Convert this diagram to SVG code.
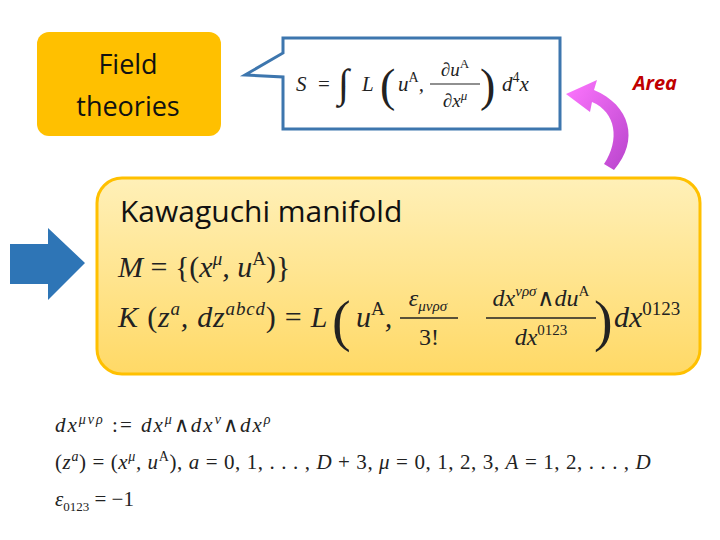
<svg xmlns="http://www.w3.org/2000/svg" width="720" height="540" viewBox="0 0 720 540">
<defs>
<linearGradient id="yb" x1="0" y1="0" x2="0" y2="1"><stop offset="0" stop-color="#FFF0B8"/><stop offset="1" stop-color="#FFD966"/></linearGradient>
<linearGradient id="mg" x1="0" y1="0" x2="1" y2="1"><stop offset="0" stop-color="#FF77FF"/><stop offset="1" stop-color="#B844CC"/></linearGradient>
</defs>
<style>
.m{font-family:"Liberation Serif",serif;font-style:italic;fill:#222}
.u{font-style:normal}
.c{font-family:"Open Sans","Liberation Sans",sans-serif;fill:#111}
</style>
<rect width="720" height="540" fill="#fff"/>
<g id="field"><rect x="37" y="32" width="184" height="104" rx="12" fill="#FFC000"/>
<text class="c" x="128" y="74" font-size="27" text-anchor="middle">Field</text>
<text class="c" x="128" y="116" font-size="27" text-anchor="middle">theories</text></g>
<g id="action"><path d="M283,38 H560 V129 H283 V77 L245,75 L283,53 Z" fill="#fff" stroke="#3D76AE" stroke-width="3"/>
<text class="m" x="296" y="91" font-size="21">S</text>
<text class="m u" x="318" y="91" font-size="21">=</text>
<text class="m u" x="338" y="97" font-size="40">∫</text>
<text class="m" x="362" y="91" font-size="21">L</text>
<text class="m u" x="380" y="101" font-size="46">(</text>
<text class="m" x="398" y="91" font-size="21">u<tspan class="u" font-size="14" dy="-9">A</tspan><tspan dy="9">,</tspan></text>
<text class="m" x="455" y="76" font-size="19" text-anchor="middle">∂u<tspan class="u" font-size="13" dy="-8">A</tspan></text>
<line x1="430" y1="84" x2="480" y2="84" stroke="#222" stroke-width="1.2"/>
<text class="m" x="455" y="107" font-size="19" text-anchor="middle">∂x<tspan font-size="13" dy="-7">μ</tspan></text>
<text class="m u" x="480" y="101" font-size="46">)</text>
<text class="m" x="502" y="91" font-size="21">d<tspan class="u" font-size="14" dy="-9">4</tspan><tspan dy="9">x</tspan></text></g>
<g id="area"><text x="655" y="90" font-family="'Open Sans','Liberation Sans',sans-serif" font-weight="bold" font-style="italic" font-size="20" fill="#C00000" text-anchor="middle">Area</text></g>
<g id="kawaguchi"><rect x="97" y="178" width="603" height="196" rx="25" fill="url(#yb)" stroke="#FFC000" stroke-width="3"/>
<text class="c" x="120" y="222" font-size="30">Kawaguchi manifold</text>
<text class="m" x="118" y="277" font-size="30">M <tspan class="u">= {(</tspan>x<tspan font-size="19" dy="-12">μ</tspan><tspan dy="12">, u</tspan><tspan class="u" font-size="19" dy="-12">A</tspan><tspan class="u" dy="12">)}</tspan></text>
<text class="m" x="118" y="327" font-size="30" letter-spacing="0.8">K <tspan class="u">(</tspan>z<tspan font-size="19" dy="-12">a</tspan><tspan dy="12">, dz</tspan><tspan font-size="19" dy="-12">abcd</tspan><tspan class="u" dy="12">) =</tspan> L</text>
<text class="m u" x="332" y="340" font-size="56">(</text>
<text class="m" x="356" y="327" font-size="30">u<tspan class="u" font-size="19" dy="-12">A</tspan><tspan dy="12">,</tspan></text>
<text class="m" x="428" y="306" font-size="24" text-anchor="middle">ε<tspan font-size="15" dy="5">μνρσ</tspan></text>
<line x1="400" y1="318" x2="458" y2="318" stroke="#222" stroke-width="1.3"/>
<text class="m u" x="429" y="345" font-size="24" text-anchor="middle">3!</text>
<text class="m" x="541" y="306" font-size="24" text-anchor="middle">dx<tspan font-size="15" dy="-10">νρσ</tspan><tspan class="u" dy="10">∧</tspan>du<tspan class="u" font-size="15" dy="-10">A</tspan></text>
<line x1="486" y1="318" x2="596" y2="318" stroke="#222" stroke-width="1.3"/>
<text class="m" x="541" y="345" font-size="24" text-anchor="middle">dx<tspan class="u" font-size="15" dy="-10">0123</tspan></text>
<text class="m u" x="594" y="340" font-size="56">)</text>
<text class="m" x="614" y="327" font-size="30">dx<tspan class="u" font-size="19" dy="-12">0123</tspan></text></g>
<g id="connectors">
<path d="M10,244 H48 V228 L85,263 L48,300 V284 H10 Z" fill="#2E75B6"/>
<path d="M614,170 C640,140 630,105 594,90 L597,80 L566,94 L590,112 L592,102 C616,112 620,140 604,164 Z" fill="url(#mg)"/>
</g>
<g id="defs-text">
<text class="m" x="55" y="432" font-size="21" letter-spacing="2">dx<tspan font-size="14" dy="-8">μνρ</tspan><tspan class="u" dy="8">  :=  </tspan>dx<tspan font-size="14" dy="-8">μ</tspan><tspan class="u" dy="8">∧</tspan>dx<tspan font-size="14" dy="-8">ν</tspan><tspan class="u" dy="8">∧</tspan>dx<tspan font-size="14" dy="-8">ρ</tspan></text>
<text class="m" x="55" y="469" font-size="21" letter-spacing="0.6"><tspan class="u">(</tspan>z<tspan font-size="14" dy="-8">a</tspan><tspan class="u" dy="8">)  = (</tspan>x<tspan font-size="14" dy="-8">μ</tspan><tspan dy="8">, u</tspan><tspan class="u" font-size="14" dy="-8">A</tspan><tspan class="u" dy="8">), </tspan>a<tspan class="u"> = 0, 1, . . . , </tspan>D<tspan class="u"> + 3, </tspan>μ<tspan class="u"> = 0, 1, 2, 3, </tspan>A<tspan class="u"> = 1, 2, . . . , </tspan>D</text>
<text class="m" x="55" y="506" font-size="21">ε<tspan class="u" font-size="13" dy="5">0123</tspan><tspan class="u" dy="-5"> = −1</tspan></text>
</g>
</svg>
